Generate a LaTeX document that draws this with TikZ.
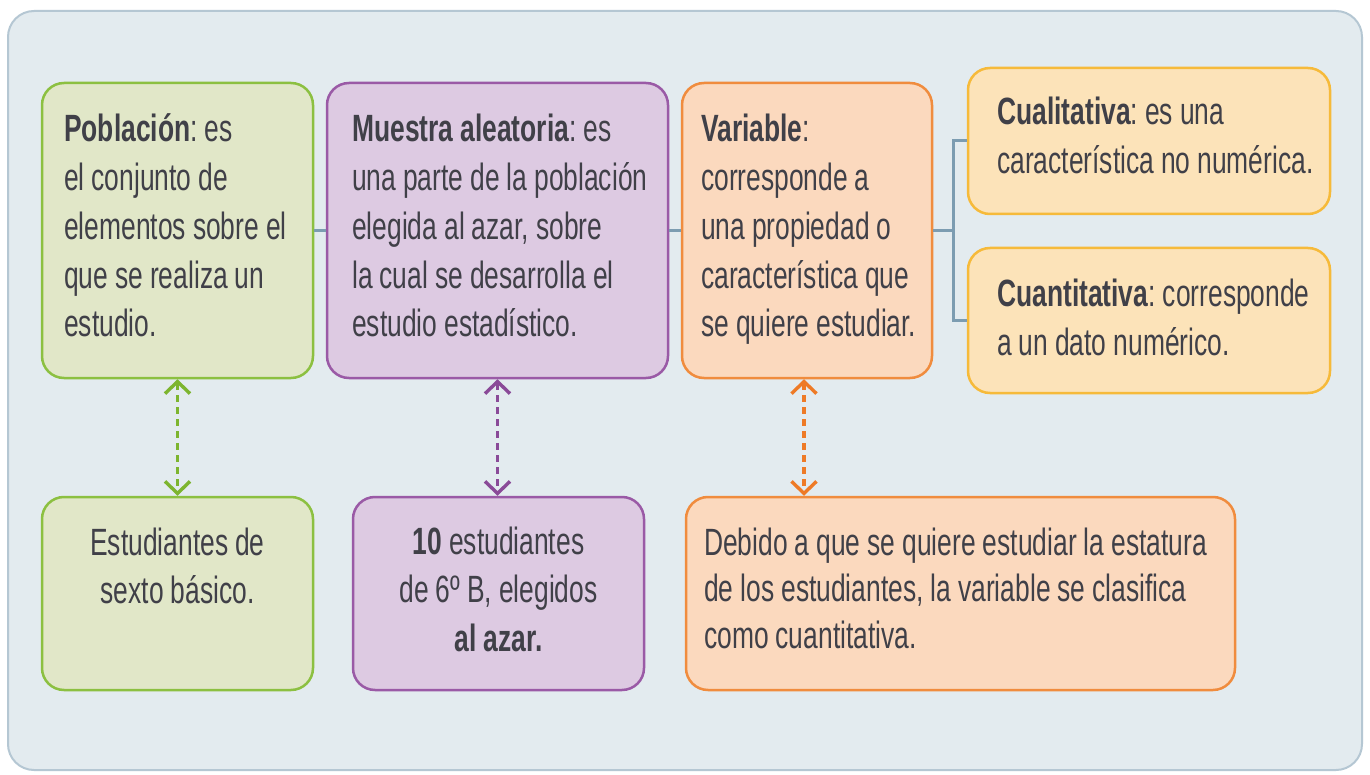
\documentclass[tikz,border=0pt]{standalone}
\usepackage{fontspec}
\setmainfont{Liberation Sans}[FakeStretch=0.695]
\usetikzlibrary{arrows.meta}
\definecolor{bgfill}{HTML}{E3EBEF}
\definecolor{bgdraw}{HTML}{B5C7D3}
\definecolor{grnD}{HTML}{8CC041}
\definecolor{grnF}{HTML}{E1E7C8}
\definecolor{grnA}{HTML}{7DB52F}
\definecolor{purD}{HTML}{9A5AA6}
\definecolor{purF}{HTML}{DDCAE2}
\definecolor{purA}{HTML}{8A4A98}
\definecolor{orgD}{HTML}{F08C3E}
\definecolor{orgF}{HTML}{FBD9BE}
\definecolor{orgA}{HTML}{EE7A26}
\definecolor{ylwD}{HTML}{F6BA3A}
\definecolor{ylwF}{HTML}{FCE3B9}
\definecolor{connC}{HTML}{7C9CB1}
\definecolor{txtC}{HTML}{404048}
\newcommand{\diagfont}[1]{\fontsize{38}{#1}\selectfont\frenchspacing\spaceskip=7pt\xspaceskip=7pt}
\begin{document}
\begin{tikzpicture}[x=1pt,y=-1pt,
  box/.style={draw, rounded corners=22pt, line width=2.5pt, inner sep=0pt},
  conn/.style={draw=connC, line width=3pt},
  darrow/.style={line width=3.4pt, dash pattern=on 7pt off 5pt,
    {Straight Barb[length=12pt,width=25pt,line width=3.4pt]}-{Straight Barb[length=12pt,width=25pt,line width=3.4pt]}},
  txt/.style={anchor=base west, inner sep=0pt, text width=600pt, align=flush left, text=txtC,
    font=\diagfont{48.75}},
  ctxt/.style={anchor=base, inner sep=0pt, text width=290pt, align=flush center, text=txtC,
    font=\diagfont{48.75}}]
\useasboundingbox[fill=white] (0,0) rectangle (1370,775);
\node[box, draw=bgdraw, fill=bgfill, rounded corners=26pt, line width=2pt,
  minimum width=1354pt, minimum height=759pt] (bg) at (685,390.5) {};

% top boxes
\node[box, draw=grnD, fill=grnF, minimum width=271pt, minimum height=295pt] (pob) at (177.5,230.5) {};
\node[box, draw=purD, fill=purF, minimum width=341pt, minimum height=295pt] (mue) at (497.5,230.5) {};
\node[box, draw=orgD, fill=orgF, minimum width=250pt, minimum height=295pt] (var) at (807,230.5) {};
\node[box, draw=ylwD, fill=ylwF, minimum width=362pt, minimum height=146pt] (cual) at (1149,141) {};
\node[box, draw=ylwD, fill=ylwF, minimum width=362pt, minimum height=145pt] (cuan) at (1149,320.5) {};
% bottom boxes
\node[box, draw=grnD, fill=grnF, minimum width=271pt, minimum height=193pt] (est) at (177.5,593.5) {};
\node[box, draw=purD, fill=purF, minimum width=291pt, minimum height=193pt] (diez) at (498.5,593.5) {};
\node[box, draw=orgD, fill=orgF, minimum width=549pt, minimum height=193pt] (deb) at (960.5,593.5) {};

% connectors
\draw[conn] (pob.east) -- (mue.west);
\draw[conn] (mue.east) -- (var.east -| var.west);
\draw[conn] (var.east) -- ++(20,0) coordinate (brk);
\draw[conn] (cual.west) -- (cual.west -| brk) -- (cuan.west -| brk) -- (cuan.west);

\draw[darrow, grnA] (pob.south) -- (est.north);
\draw[darrow, purA] (mue.south) -- (mue.south |- diez.north);
\draw[darrow, orgA] ([xshift=-3pt]var.south) -- ([xshift=-3pt]var.south |- deb.north);

% texts
\node[txt] (tpob) at (64,142) {\textbf{Población}: es\\el conjunto de\\elementos sobre el\\que se realiza un\\estudio.};
\node[txt] (tmue) at (352,142) {\textbf{Muestra aleatoria}: es\\una parte de la población\\elegida al azar, sobre\\la cual se desarrolla el\\estudio estadístico.};
\node[txt] (tvar) at (701,142) {\textbf{Variable}:\\corresponde a\\una propiedad o\\característica que\\se quiere estudiar.};
\node[txt] (tcual) at (997,125) {\textbf{Cualitativa}: es una\\característica no numérica.};
\node[txt] (tcuan) at (997,307) {\textbf{Cuantitativa}: corresponde\\a un dato numérico.};
\node[ctxt] (test) at (177.5,555) {Estudiantes de\\sexto básico.};
\node[ctxt] (tdiez) at (498.5,554) {\textbf{10} estudiantes\\de 6º B, elegidos\\\textbf{al azar.}};
\node[txt, font=\diagfont{46.5}] (tdeb) at (704,555) {Debido a que se quiere estudiar la estatura\\de los estudiantes, la variable se clasifica\\como cuantitativa.};
\end{tikzpicture}
\end{document}
